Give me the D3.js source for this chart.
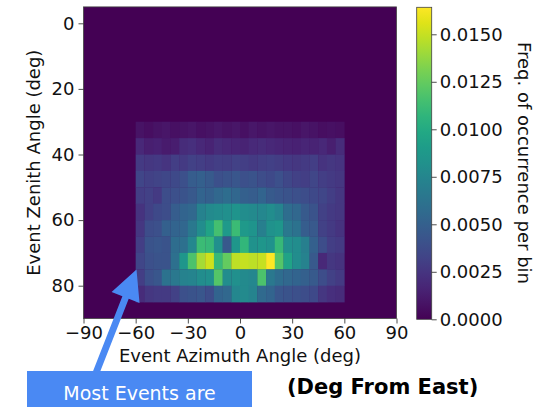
<!DOCTYPE html>
<html>
<head>
<meta charset="utf-8">
<script src="https://cdn.jsdelivr.net/npm/d3@7"></script>
<style>
  body { margin: 0; background: #fff; }
  svg text { font-family: "DejaVu Sans", sans-serif; }
</style>
</head>
<body>
<div id="chart"></div>
<script>
// bin starts (deg), 5 deg wide bins
var azimuthStarts = [-60, -55, -50, -45, -40, -35, -30, -25, -20, -15, -10, -5,
                     0, 5, 10, 15, 20, 25, 30, 35, 40, 45, 50, 55];
var zenithStarts = [30, 35, 40, 45, 50, 55, 60, 65, 70, 75, 80];

// frequency per bin, in units of 1e-4 (one row per zenith bin)
var freqE4 = [
  [8, 6, 8, 9, 7, 8, 9, 7, 8, 10, 8, 9, 7, 10, 8, 9, 8, 8, 7, 9, 8, 6, 7, 6],
  [18, 14, 15, 12, 13, 20, 22, 18, 16, 20, 18, 17, 16, 19, 20, 18, 17, 16, 15, 17, 16, 18, 14, 20],
  [28, 26, 27, 25, 30, 28, 32, 30, 28, 30, 29, 32, 30, 28, 30, 31, 29, 27, 26, 28, 30, 24, 26, 25],
  [34, 32, 33, 35, 36, 40, 48, 50, 46, 40, 42, 44, 40, 42, 38, 36, 40, 35, 32, 30, 34, 30, 28, 26],
  [30, 32, 28, 38, 40, 42, 45, 52, 50, 55, 58, 54, 50, 48, 52, 46, 44, 42, 40, 38, 36, 34, 30, 26],
  [24, 32, 36, 38, 48, 52, 55, 72, 78, 80, 82, 85, 80, 78, 76, 80, 74, 58, 55, 46, 42, 32, 28, 26],
  [26, 38, 40, 50, 52, 54, 66, 80, 95, 115, 88, 112, 88, 85, 70, 84, 86, 66, 62, 48, 45, 32, 28, 24],
  [30, 42, 44, 42, 58, 60, 76, 112, 110, 82, 45, 86, 108, 84, 86, 84, 110, 82, 80, 70, 50, 38, 30, 28],
  [34, 40, 42, 42, 60, 86, 118, 142, 152, 110, 125, 148, 150, 148, 150, 164, 120, 95, 80, 72, 45, 18, 26, 24],
  [30, 40, 44, 62, 66, 72, 74, 80, 82, 120, 80, 82, 78, 76, 118, 66, 58, 55, 52, 50, 46, 38, 32, 28],
  [20, 26, 28, 28, 32, 40, 42, 44, 38, 52, 55, 76, 78, 74, 56, 52, 44, 42, 40, 38, 36, 26, 22, 20]
];

var xTicks = [-90, -60, -30, 0, 30, 60, 90];
var yTicks = [0, 20, 40, 60, 80];
var cbTicks = [0, 0.0025, 0.005, 0.0075, 0.01, 0.0125, 0.015];
var cbMax = 0.01642;

var w = 539;
var h = 407;
var binW = 5;
var fontSize = "18px";

var svg = d3.select("#chart")
  .append("svg")
  .attr("width", w)
  .attr("height", h);

var xScale = d3.scaleLinear().domain([-90, 90]).range([83.5, 396.5]);
var yScale = d3.scaleLinear().domain([-5, 90]).range([6.9, 318.5]);
var color = d3.scaleSequential(d3.interpolateViridis).domain([0, cbMax]);

var cells = [];
freqE4.forEach(function(row, i) {
  row.forEach(function(v, j) {
    cells.push({ az: azimuthStarts[j], zen: zenithStarts[i], f: v * 1e-4 });
  });
});

// empty bins
svg.append("rect")
  .attr("x", xScale(-90))
  .attr("y", yScale(-5))
  .attr("width", xScale(90) - xScale(-90))
  .attr("height", yScale(90) - yScale(-5))
  .attr("fill", color(0));

svg.append("g")
  .selectAll("rect")
  .data(cells)
  .enter()
  .append("rect")
  .attr("x", function(d) { return xScale(d.az); })
  .attr("y", function(d) { return yScale(d.zen); })
  .attr("width", function(d) { return xScale(d.az + binW) - xScale(d.az) + 0.3; })
  .attr("height", function(d) { return yScale(d.zen + binW) - yScale(d.zen) + 0.3; })
  .attr("fill", function(d) { return color(d.f); });

svg.append("rect")
  .attr("x", xScale(-90))
  .attr("y", yScale(-5))
  .attr("width", xScale(90) - xScale(-90))
  .attr("height", yScale(90) - yScale(-5))
  .attr("fill", "none")
  .attr("stroke", "#444")
  .attr("stroke-width", 0.8);

var xAxis = d3.axisBottom(xScale).tickValues(xTicks).tickSize(5).tickPadding(3);
var yAxis = d3.axisLeft(yScale).tickValues(yTicks).tickSize(5).tickPadding(4);

var gx = svg.append("g")
  .attr("transform", "translate(0," + yScale(90) + ")")
  .call(xAxis);
var gy = svg.append("g")
  .attr("transform", "translate(" + xScale(-90) + ",0)")
  .call(yAxis);

[gx, gy].forEach(function(g) {
  g.select(".domain").remove();
  g.selectAll("line").attr("stroke", "#222").attr("stroke-width", 0.8);
  g.selectAll("text").attr("font-size", fontSize).attr("font-family", "DejaVu Sans").attr("fill", "#111");
});

svg.append("text")
  .attr("x", (xScale(-90) + xScale(90)) / 2)
  .attr("y", 362)
  .attr("text-anchor", "middle")
  .attr("font-size", fontSize)
  .attr("fill", "#111")
  .text("Event Azimuth Angle (deg)");

svg.append("text")
  .attr("transform", "translate(40," + (yScale(-5) + yScale(90)) / 2 + ") rotate(-90)")
  .attr("text-anchor", "middle")
  .attr("font-size", fontSize)
  .attr("fill", "#111")
  .text("Event Zenith Angle (deg)");

// colorbar
var cbX = 416.7, cbW = 15;
var cbScale = d3.scaleLinear().domain([0, cbMax]).range([319.3, 7.3]);

var grad = svg.append("defs").append("linearGradient")
  .attr("id", "cb")
  .attr("x1", 0).attr("y1", 1).attr("x2", 0).attr("y2", 0);
d3.range(0, 1.0001, 0.05).forEach(function(t) {
  grad.append("stop")
    .attr("offset", t)
    .attr("stop-color", d3.interpolateViridis(t));
});

svg.append("rect")
  .attr("x", cbX)
  .attr("y", cbScale(cbMax))
  .attr("width", cbW)
  .attr("height", cbScale(0) - cbScale(cbMax))
  .attr("fill", "url(#cb)")
  .attr("stroke", "#444")
  .attr("stroke-width", 0.8);

var cbAxis = d3.axisRight(cbScale)
  .tickValues(cbTicks)
  .tickSize(5)
  .tickPadding(3)
  .tickFormat(d3.format(".4f"));

var gc = svg.append("g")
  .attr("transform", "translate(" + (cbX + cbW) + ",0)")
  .call(cbAxis);
gc.select(".domain").remove();
gc.selectAll("line").attr("stroke", "#222").attr("stroke-width", 0.8);
gc.selectAll("text").attr("font-size", fontSize).attr("font-family", "DejaVu Sans").attr("fill", "#111");

svg.append("text")
  .attr("transform", "translate(518,163) rotate(90)")
  .attr("text-anchor", "middle")
  .attr("font-size", fontSize)
  .attr("fill", "#111")
  .text("Freq. of occurrence per bin");

// annotation
var blue = "#4a89f3";
var tip = [136.5, 269.5], tail = [94, 378];
var dx = tip[0] - tail[0], dy = tip[1] - tail[1];
var len = Math.sqrt(dx * dx + dy * dy);
var ux = dx / len, uy = dy / len, nx = -uy, ny = ux;
var headL = 30, headW = 15, shaftW = 3.4;
var bx = tip[0] - ux * headL, by = tip[1] - uy * headL;
var pts = [
  [tail[0] + nx * shaftW, tail[1] + ny * shaftW],
  [bx + nx * shaftW, by + ny * shaftW],
  [bx + nx * headW, by + ny * headW],
  tip,
  [bx - nx * headW, by - ny * headW],
  [bx - nx * shaftW, by - ny * shaftW],
  [tail[0] - nx * shaftW, tail[1] - ny * shaftW]
];
svg.append("path")
  .attr("d", d3.line()(pts) + "Z")
  .attr("fill", blue);

svg.append("rect")
  .attr("x", 27)
  .attr("y", 371)
  .attr("width", 225)
  .attr("height", 40)
  .attr("fill", blue);

svg.append("text")
  .attr("x", 139.5)
  .attr("y", 400)
  .attr("text-anchor", "middle")
  .attr("font-family", "Open Sans")
  .attr("font-size", "19px")
  .attr("fill", "#fff")
  .text("Most Events are");

svg.append("text")
  .attr("x", 287)
  .attr("y", 394)
  .attr("font-family", "Roboto")
  .attr("font-weight", "bold")
  .attr("font-size", "21px")
  .attr("fill", "#000")
  .text("(Deg From East)");
</script>
</body>
</html>
